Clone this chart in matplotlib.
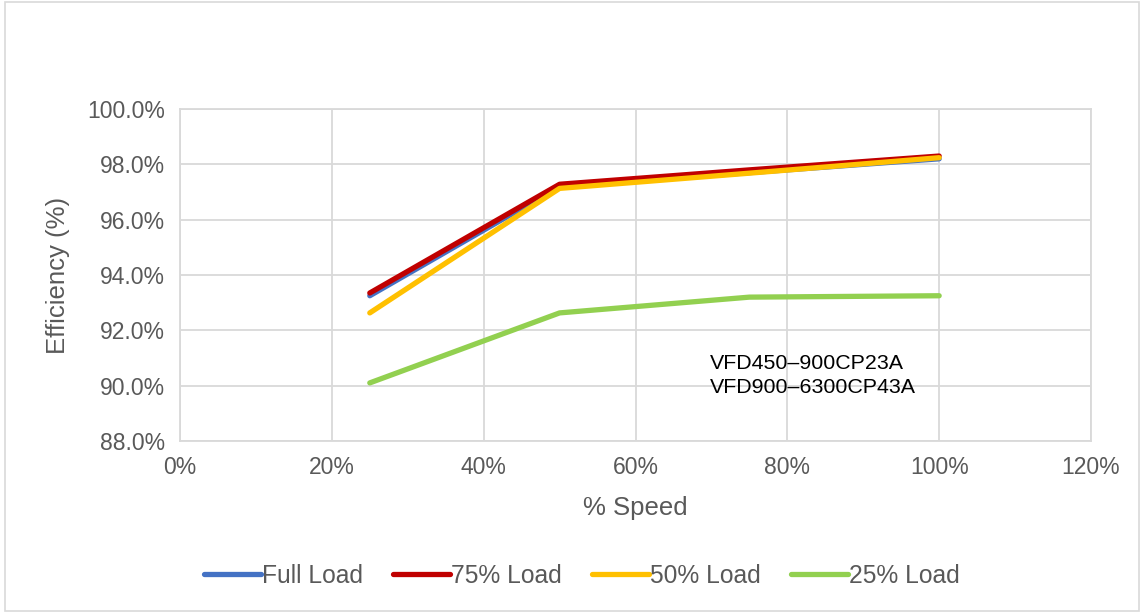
import numpy as np
import matplotlib.pyplot as plt

plt.rcParams['font.family'] = ['Liberation Sans', 'DejaVu Sans']

# Data
speed = [25, 50, 75, 100]
full_load = [93.25, 97.20, 97.70, 98.20]
load_75 = [93.35, 97.28, 97.80, 98.30]
load_50 = [92.63, 97.13, 97.68, 98.24]
load_25 = [90.10, 92.63, 93.20, 93.25]

series = [
    ("Full Load", full_load, "#4472C4"),
    ("75% Load", load_75, "#C00000"),
    ("50% Load", load_50, "#FFC000"),
    ("25% Load", load_25, "#92D050"),
]

x_ticks = np.arange(0, 121, 20)
y_ticks = np.arange(88, 100.1, 2)

fig = plt.figure(figsize=(11.44, 6.13), dpi=100)
ax = fig.add_axes([180 / 1144, 1 - 441 / 613, (1091 - 180) / 1144, (441 - 109) / 613])

for name, vals, col in series:
    ax.plot(speed, vals, color=col, lw=3.8, solid_capstyle='round',
            solid_joinstyle='round', label=name)

ax.set_xlim(0, 120)
ax.set_ylim(88, 100)
ax.set_xticks(x_ticks)
ax.set_xticklabels([f"{v}%" for v in x_ticks])
ax.set_yticks(y_ticks)
ax.set_yticklabels([f"{v:.1f}%" for v in y_ticks])
ax.grid(True, color="#D9D9D9", lw=1.3)
ax.set_axisbelow(True)
for s in ax.spines.values():
    s.set_color("#D9D9D9")
    s.set_linewidth(1.3)
ax.tick_params(length=0, labelsize=16.5, labelcolor="#595959", pad=11)

ax.set_xlabel("% Speed", fontsize=18.5, color="#595959", labelpad=12)
ax.set_ylabel("Efficiency (%)", fontsize=18.5, color="#595959", labelpad=12)

ax.text(69.8, 89.6, "VFD450\u2013900CP23A\nVFD900\u20136300CP43A",
        fontsize=15.4, color="black", linespacing=1.3, va='bottom')

fig.legend(loc='center', bbox_to_anchor=(582 / 1144, 1 - 576 / 613), ncol=4,
           frameon=False, fontsize=17.7, labelcolor="#595959",
           handlelength=2.3, handletextpad=0.05, columnspacing=1.23)

# outer border
fig.patches.append(plt.Rectangle((0.004, 0.004), 0.992, 0.992, transform=fig.transFigure,
                                 fill=False, edgecolor="#D9D9D9", lw=1.2))

fig.savefig("out.png", dpi=100)
